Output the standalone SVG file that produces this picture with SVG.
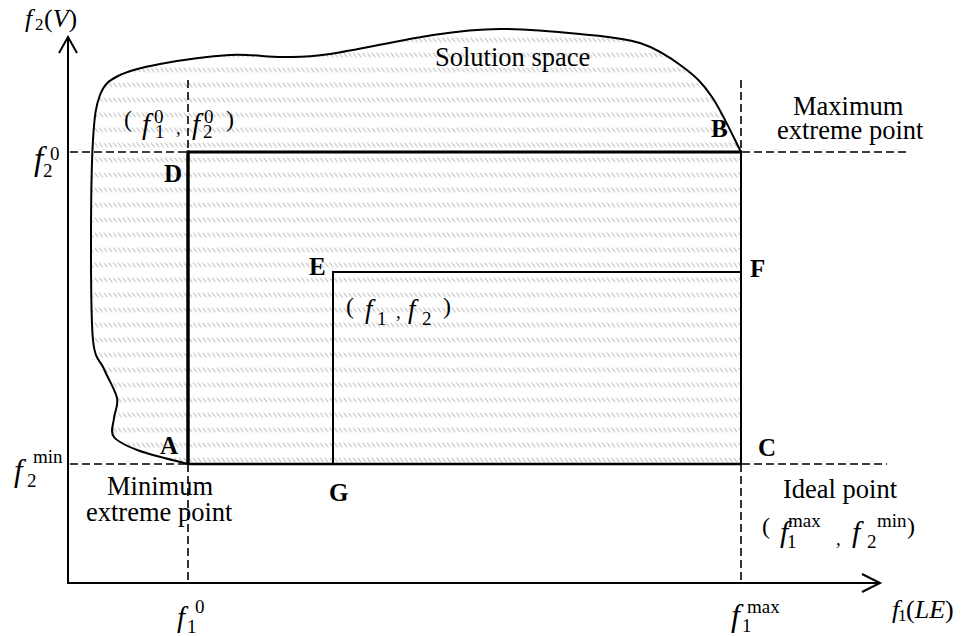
<svg xmlns="http://www.w3.org/2000/svg" width="962" height="636" viewBox="0 0 962 636">
<defs>
<style>
text{font-family:"Liberation Serif","Times New Roman",serif;fill:#000}
.lbl{font-size:26.5px}
.b{font-size:25px;font-weight:bold}
.i{font-style:italic}
.m{font-size:29px}
.s{font-size:19px}
.p{font-size:24px}
.dash{stroke:#000;stroke-width:1.6;stroke-dasharray:8 4;fill:none}
.ln{stroke:#000;fill:none}
</style>
<pattern id="hatch" patternUnits="userSpaceOnUse" x="0" y="187.5" width="4.7" height="15">
<line x1="0.6" y1="0.3" x2="4" y2="4.7" stroke="#9a9a9a" stroke-width="0.9"/>
</pattern>
</defs>
<rect width="962" height="636" fill="#fff"/>

<g id="solution-space">
<path fill="url(#hatch)" stroke="none" d="M188,464 C180,461.8 152.3,455.5 140,451 C127.7,446.5 118.3,442.5 114,437 C109.7,431.5 113.5,424.5 114,418 C114.5,411.5 118.7,406.2 117,398 C115.3,389.8 108,378.7 104,369 C100,359.3 95.2,361.5 93,340 C90.8,318.5 91,273.3 91,240 C91,206.7 91.5,164.2 93,140 C94.5,115.8 95.8,105.7 100,95 C104.2,84.3 108,81.2 118,76 C128,70.8 141.3,67.5 160,64 C178.7,60.5 209.5,56.2 230,55 C250.5,53.8 266.3,57.2 283,57 C299.7,56.8 305,57.7 330,54 C355,50.3 404.7,39.2 433,35 C461.3,30.8 475.5,29.2 500,29 C524.5,28.8 556.7,31.7 580,34 C603.3,36.3 622.8,37.5 640,43 C657.2,48.5 671,58 683,67 C695,76 702.3,82.8 712,97 C721.7,111.2 736.2,142.8 741,152 L741,464 Z"/>
<path class="ln" stroke-width="2" d="M188,464 C180,461.8 152.3,455.5 140,451 C127.7,446.5 118.3,442.5 114,437 C109.7,431.5 113.5,424.5 114,418 C114.5,411.5 118.7,406.2 117,398 C115.3,389.8 108,378.7 104,369 C100,359.3 95.2,361.5 93,340 C90.8,318.5 91,273.3 91,240 C91,206.7 91.5,164.2 93,140 C94.5,115.8 95.8,105.7 100,95 C104.2,84.3 108,81.2 118,76 C128,70.8 141.3,67.5 160,64 C178.7,60.5 209.5,56.2 230,55 C250.5,53.8 266.3,57.2 283,57 C299.7,56.8 305,57.7 330,54 C355,50.3 404.7,39.2 433,35 C461.3,30.8 475.5,29.2 500,29 C524.5,28.8 556.7,31.7 580,34 C603.3,36.3 622.8,37.5 640,43 C657.2,48.5 671,58 683,67 C695,76 702.3,82.8 712,97 C721.7,111.2 736.2,142.8 741,152"/>
<text class="lbl" x="435" y="66">Solution space</text>
</g>

<g id="connectors">
<line class="dash" x1="70" y1="152" x2="910" y2="152"/>
<line class="dash" x1="70" y1="464" x2="887" y2="464"/>
<line class="dash" x1="188" y1="80" x2="188" y2="580"/>
<line class="dash" x1="741" y1="80" x2="741" y2="580"/>
<line class="ln" x1="188" y1="152" x2="742" y2="152" stroke-width="3"/>
<line class="ln" x1="188" y1="150.5" x2="188" y2="465" stroke-width="3.5"/>
<line class="ln" x1="741" y1="152" x2="741" y2="465" stroke-width="2"/>
<line class="ln" x1="188" y1="464" x2="742" y2="464" stroke-width="2.4"/>
<polyline class="ln" points="333,465 333,272 741,272" stroke-width="2"/>
</g>

<g id="axes">
<line class="ln" x1="68" y1="584" x2="68" y2="38" stroke-width="2"/>
<polyline class="ln" points="59,53 68,37 77,53" stroke-width="2"/>
<line class="ln" x1="67" y1="583" x2="879" y2="583" stroke-width="2"/>
<polyline class="ln" points="862,574 880,583 862,592" stroke-width="2"/>
<text x="25" y="27" class="p"><tspan class="i" font-size="26">f</tspan><tspan x="35" y="30" font-size="17">2</tspan><tspan x="44" y="27" font-size="26">(</tspan><tspan class="i" font-size="26">V</tspan><tspan font-size="26">)</tspan></text>
<text x="892" y="618" class="p"><tspan class="i" font-size="26">f</tspan><tspan x="898" y="621" font-size="17">1</tspan><tspan x="906" y="618" font-size="26">(</tspan><tspan class="i" font-size="26">LE</tspan><tspan font-size="26">)</tspan></text>
</g>

<g id="tick-labels">
<text class="i" x="34" y="170" font-size="33">f</text>
<text class="s" x="50" y="160">0</text>
<text class="s" x="43" y="177">2</text>

<text class="i" x="14" y="481" font-size="31">f</text>
<text class="s" x="33" y="463">min</text>
<text class="s" x="27" y="487">2</text>

<text class="m i" x="177" y="627">f</text>
<text class="s" x="195" y="613">0</text>
<text class="s" x="187" y="633">1</text>

<text class="i" x="731" y="626" font-size="32">f</text>
<text class="s" x="747" y="613">max</text>
<text class="s" x="742" y="632">1</text>
</g>

<g id="point-D0">
<text class="p" x="124" y="127" font-size="26">(</text>
<text class="m i" x="142" y="134">f</text>
<text class="s" x="154" y="123">0</text>
<text class="s" x="155" y="138">1</text>
<text class="s" x="176" y="134">,</text>
<text class="m i" x="192" y="134">f</text>
<text class="s" x="204" y="123">0</text>
<text class="s" x="203" y="138">2</text>
<text class="p" x="226" y="127" font-size="26">)</text>
</g>

<g id="point-E">
<text class="p" x="346" y="314">(</text>
<text class="i" x="365" y="318" font-size="27">f</text>
<text class="s" x="377" y="325">1</text>
<text class="s" x="396" y="318">,</text>
<text class="i" x="408" y="318" font-size="27">f</text>
<text class="s" x="422" y="325">2</text>
<text class="p" x="443" y="314">)</text>
</g>

<g id="point-ideal">
<text class="lbl" x="783" y="498">Ideal point</text>
<text class="p" x="762" y="534">(</text>
<text class="i" x="780" y="542" font-size="30">f</text>
<text class="s" x="788" y="527">max</text>
<text class="s" x="787" y="548">1</text>
<text class="s" x="836" y="545">,</text>
<text class="i" x="852" y="542" font-size="30">f</text>
<text class="s" x="877" y="527">min</text>
<text class="s" x="867" y="548">2</text>
<text class="p" x="907" y="534">)</text>
</g>

<g id="point-max">
<text class="lbl" x="793" y="115">Maximum</text>
<text class="lbl" x="777" y="139">extreme point</text>
</g>

<g id="point-min">
<text class="lbl" x="107" y="495">Minimum</text>
<text class="lbl" x="86" y="521">extreme point</text>
</g>

<g id="vertex-labels">
<text class="b" x="160" y="454">A</text>
<text class="b" x="711" y="137">B</text>
<text class="b" x="758" y="456">C</text>
<text class="b" x="164" y="182">D</text>
<text class="b" x="309" y="275">E</text>
<text class="b" x="750" y="277">F</text>
<text class="b" x="329" y="501">G</text>
</g>
</svg>
